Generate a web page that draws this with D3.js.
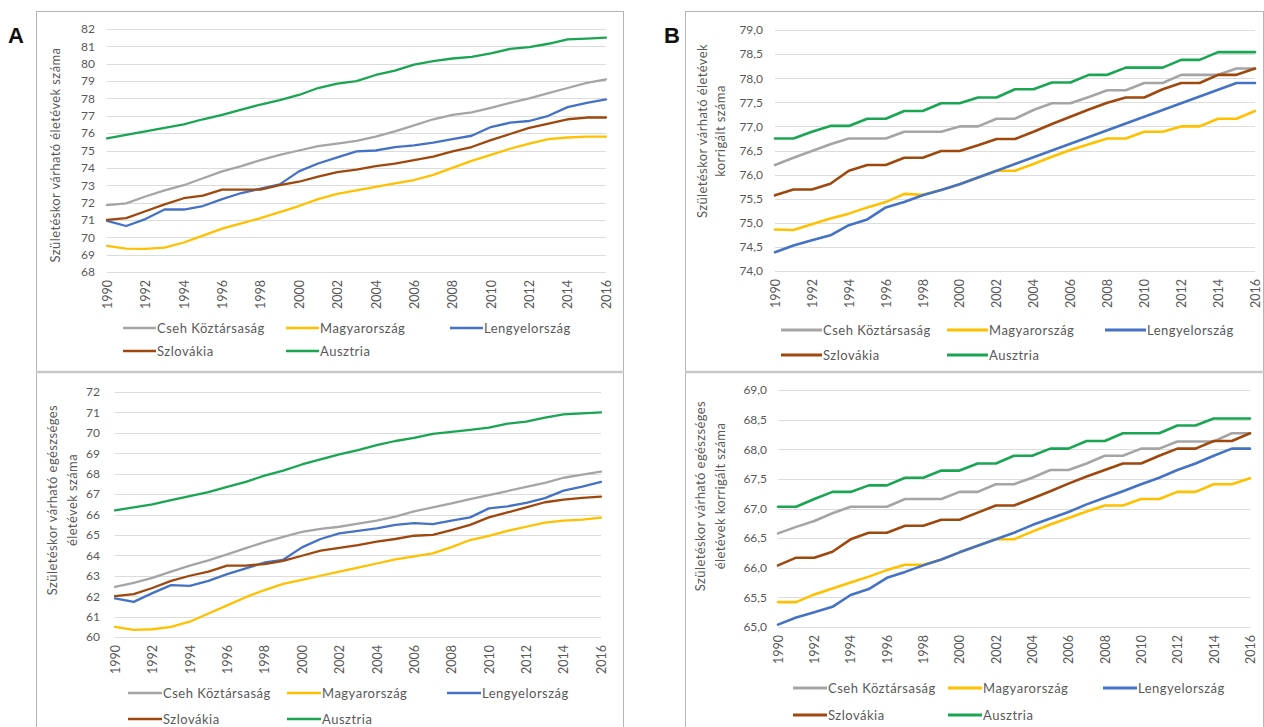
<!DOCTYPE html>
<html><head><meta charset="utf-8">
<script src="https://cdn.jsdelivr.net/npm/d3@7"></script>
<style>
body{margin:0;background:#fff}
svg{display:block}
text{font-family:Lato,"Open Sans",sans-serif}
</style>
</head><body>
<svg id="chart" width="1264" height="727"></svg>
<script>
// ---------------- DATA ----------------
const years = [1990,1991,1992,1993,1994,1995,1996,1997,1998,1999,2000,2001,2002,2003,2004,2005,2006,2007,2008,2009,2010,2011,2012,2013,2014,2015,2016];
const xTickYears = [1990,1992,1994,1996,1998,2000,2002,2004,2006,2008,2010,2012,2014,2016];
const seriesNames = ["Cseh Köztársaság","Magyarország","Lengyelország","Szlovákia","Ausztria"];
const seriesColors = ["#a5a5a5","#ffc000","#4472c4","#9e480e","#1aa553"];

// A – születéskor várható élettartam
const leCZ = [71.85,71.95,72.35,72.7,73.0,73.4,73.8,74.1,74.45,74.75,75.0,75.25,75.4,75.55,75.8,76.1,76.45,76.8,77.05,77.2,77.45,77.75,78.0,78.3,78.6,78.9,79.1];
const leHU = [69.5,69.35,69.33,69.4,69.7,70.1,70.5,70.8,71.1,71.45,71.8,72.2,72.5,72.7,72.9,73.1,73.3,73.6,74.0,74.4,74.75,75.1,75.4,75.65,75.75,75.8,75.8];
const lePL = [70.94,70.65,71.05,71.6,71.6,71.8,72.2,72.55,72.8,73.05,73.8,74.25,74.6,74.95,75.0,75.2,75.3,75.45,75.65,75.85,76.35,76.6,76.7,77.0,77.5,77.75,77.95];
const leSK = [71.0,71.1,71.5,71.9,72.25,72.4,72.75,72.75,72.75,73.0,73.2,73.5,73.75,73.9,74.1,74.25,74.45,74.65,74.95,75.2,75.6,75.95,76.3,76.55,76.8,76.9,76.9];
const leAT = [75.7,75.9,76.1,76.3,76.5,76.8,77.05,77.35,77.65,77.9,78.2,78.6,78.85,79.0,79.35,79.6,79.95,80.15,80.3,80.4,80.6,80.85,80.95,81.15,81.4,81.45,81.5];

// A – egészséges életévek
const hleCZ = [62.45,62.65,62.9,63.2,63.5,63.75,64.05,64.35,64.65,64.9,65.15,65.3,65.4,65.55,65.7,65.9,66.15,66.35,66.55,66.75,66.95,67.15,67.35,67.55,67.8,67.95,68.1];
const hleHU = [60.5,60.35,60.38,60.5,60.75,61.15,61.55,61.95,62.3,62.6,62.8,63.0,63.2,63.4,63.6,63.8,63.95,64.1,64.4,64.75,64.95,65.2,65.4,65.6,65.7,65.75,65.85];
const hlePL = [61.89,61.72,62.15,62.54,62.5,62.75,63.08,63.36,63.65,63.78,64.39,64.8,65.08,65.2,65.32,65.49,65.58,65.53,65.7,65.86,66.3,66.4,66.57,66.8,67.17,67.37,67.6];
const hleSK = [62.0,62.1,62.4,62.75,63.0,63.2,63.5,63.5,63.57,63.73,63.98,64.23,64.36,64.5,64.67,64.8,64.96,65.0,65.24,65.49,65.86,66.1,66.35,66.6,66.73,66.81,66.88];
const hleAT = [66.2,66.35,66.5,66.7,66.9,67.1,67.35,67.6,67.9,68.15,68.45,68.7,68.95,69.15,69.4,69.6,69.75,69.95,70.05,70.15,70.25,70.45,70.55,70.75,70.9,70.95,71.0];

// B – korrigált várható élettartam
const cleCZ = [76.2,76.35,76.49,76.63,76.75,76.75,76.75,76.89,76.89,76.89,77.0,77.0,77.16,77.16,77.34,77.48,77.48,77.61,77.75,77.75,77.9,77.9,78.07,78.07,78.07,78.2,78.2];
const cleHU = [74.86,74.85,74.97,75.09,75.19,75.32,75.43,75.6,75.58,75.68,75.8,75.94,76.08,76.08,76.22,76.37,76.51,76.63,76.75,76.75,76.89,76.89,77.0,77.0,77.16,77.16,77.32];
const clePL = [74.39,74.53,74.64,74.74,74.95,75.07,75.32,75.43,75.57,75.68,75.8,75.94,76.08,76.22,76.36,76.5,76.64,76.78,76.92,77.06,77.2,77.34,77.48,77.62,77.76,77.9,77.9];
const cleSK = [75.57,75.69,75.69,75.81,76.08,76.2,76.2,76.35,76.35,76.49,76.49,76.61,76.74,76.74,76.89,77.05,77.2,77.35,77.49,77.6,77.6,77.77,77.9,77.9,78.07,78.07,78.2];
const cleAT = [76.75,76.75,76.89,77.01,77.01,77.16,77.16,77.32,77.32,77.48,77.48,77.6,77.6,77.77,77.77,77.91,77.91,78.07,78.07,78.22,78.22,78.22,78.38,78.38,78.54,78.54,78.54];

// B – korrigált egészséges életévek
const chleCZ = [66.58,66.69,66.79,66.92,67.03,67.03,67.03,67.16,67.16,67.16,67.28,67.28,67.41,67.41,67.52,67.65,67.65,67.76,67.89,67.89,68.01,68.01,68.13,68.13,68.13,68.27,68.27];
const chleHU = [65.42,65.42,65.55,65.65,65.75,65.85,65.96,66.05,66.05,66.14,66.26,66.37,66.48,66.48,66.61,66.73,66.84,66.95,67.05,67.05,67.16,67.16,67.28,67.28,67.41,67.41,67.51];
const chlePL = [65.04,65.16,65.25,65.34,65.54,65.64,65.83,65.93,66.04,66.14,66.26,66.37,66.48,66.59,66.72,66.83,66.94,67.07,67.18,67.29,67.41,67.52,67.65,67.76,67.89,68.01,68.01];
const chleSK = [66.04,66.17,66.17,66.27,66.48,66.59,66.59,66.71,66.71,66.81,66.81,66.93,67.05,67.05,67.17,67.29,67.42,67.54,67.65,67.76,67.76,67.89,68.01,68.01,68.14,68.14,68.27];
const chleAT = [67.03,67.03,67.16,67.28,67.28,67.39,67.39,67.52,67.52,67.64,67.64,67.76,67.76,67.89,67.89,68.01,68.01,68.14,68.14,68.27,68.27,68.27,68.4,68.4,68.52,68.52,68.52];

// y tick values
const yTicksA1 = [68,69,70,71,72,73,74,75,76,77,78,79,80,81,82];
const yTicksA2 = [60,61,62,63,64,65,66,67,68,69,70,71,72];
const yTicksB1 = [74.0,74.5,75.0,75.5,76.0,76.5,77.0,77.5,78.0,78.5,79.0];
const yTicksB2 = [65.0,65.5,66.0,66.5,67.0,67.5,68.0,68.5,69.0];

// titles
const titleA1 = ["Születéskor várható életévek száma"];
const titleA2 = ["Születéskor várható egészséges","életévek száma"];
const titleB1 = ["Születéskor várható életévek","korrigált száma"];
const titleB2 = ["Születéskor várható egészséges","életévek korrigált száma"];

// ---------------- DRAW ----------------
const svg = d3.select("#chart");
const huLocale = d3.formatLocale({decimal: ",", thousands: " ", grouping: [3], currency: ["", ""]});
const fmtInt = d3.format("d");
const fmtDec = huLocale.format(".1f");
const textCol = "#595959";

function frame(x0, x1, yTop, ySep) {
  svg.append("rect").attr("x", x0 + .5).attr("y", yTop + .5).attr("width", x1 - x0).attr("height", 760)
    .attr("fill", "none").attr("stroke", "#b4b4b4").attr("stroke-width", 1);
  svg.append("line").attr("x1", x0).attr("x2", x1 + 1).attr("y1", ySep).attr("y2", ySep)
    .attr("stroke", "#c8c8c8").attr("stroke-width", 2.5);
}
frame(36, 623, 11, 372);
frame(685, 1263, 11, 372);

svg.append("text").attr("x", 8).attr("y", 43).text("A")
  .style("font-family", "'Liberation Sans',Arial,sans-serif").style("font-weight", "bold").style("font-size", "22px").attr("fill", "#111");
svg.append("text").attr("x", 664).attr("y", 43).text("B")
  .style("font-family", "'Liberation Sans',Arial,sans-serif").style("font-weight", "bold").style("font-size", "22px").attr("fill", "#111");

function drawPanel(p) {
  const g = svg.append("g");
  const x = d3.scaleLinear().domain([years[0], years[years.length - 1]]).range([p.x0, p.x1]);
  const y = d3.scaleLinear().domain([p.ticks[0], p.ticks[p.ticks.length - 1]]).range([p.y1, p.y0]);

  g.append("g").selectAll("line").data(p.ticks).join("line")
    .attr("x1", p.x0).attr("x2", p.x1)
    .attr("y1", d => Math.round(y(d)) + .5).attr("y2", d => Math.round(y(d)) + .5)
    .attr("stroke", "#dcdcdc").attr("stroke-width", 1);

  const ya = g.append("g").attr("transform", `translate(${p.x0},0)`)
    .call(d3.axisLeft(y).tickValues(p.ticks).tickFormat(p.fmt).tickSize(0).tickPadding(p.yPad));
  ya.select(".domain").remove();
  ya.selectAll("text").attr("fill", textCol).style("font-size", "12px").style("font-family", "Lato,sans-serif");

  const xa = g.append("g").attr("transform", `translate(0,${p.y1})`)
    .call(d3.axisBottom(x).tickValues(xTickYears).tickFormat(fmtInt).tickSize(0));
  xa.select(".domain").remove();
  xa.selectAll("text").attr("transform", "rotate(-90)").attr("text-anchor", "end")
    .attr("x", -8).attr("y", 0).attr("dy", "0.35em")
    .attr("fill", textCol).style("font-size", "12.5px").style("font-family", "Lato,sans-serif");

  const line = d3.line().x((d, i) => x(years[i])).y(d => y(d));
  g.append("g").selectAll("path").data(p.series).join("path")
    .attr("d", d => line(d)).attr("fill", "none")
    .attr("stroke", (d, i) => seriesColors[i]).attr("stroke-width", p.lw)
    .attr("stroke-linejoin", "round").attr("stroke-linecap", "round");

  p.title.forEach((t, i) => {
    g.append("text").attr("transform", `translate(${p.titleX[i]},${p.titleY}) rotate(-90)`)
      .attr("text-anchor", "middle").attr("dy", "0.35em").text(t)
      .attr("fill", textCol).style("font-size", "13px").style("letter-spacing", "0.4px");
  });

  const lg = g.append("g");
  seriesNames.forEach((name, i) => {
    const row = i < 3 ? 0 : 1;
    const col = i < 3 ? i : i - 3;
    const lx = p.legX[col], ly = p.legY[row];
    lg.append("line").attr("x1", lx).attr("x2", lx + p.legLen).attr("y1", ly).attr("y2", ly)
      .attr("stroke", seriesColors[i]).attr("stroke-width", p.legLw);
    lg.append("text").attr("x", lx + p.legLen + 1).attr("y", ly).attr("dy", "0.35em").text(name)
      .attr("fill", textCol).style("font-size", "13px").style("letter-spacing", "0.5px");
  });
}

drawPanel({x0: 107, x1: 606, y0: 29, y1: 272, ticks: yTicksA1, fmt: fmtInt, yPad: 12,
  series: [leCZ, leHU, lePL, leSK, leAT], lw: 2.3,
  title: titleA1, titleX: [55], titleY: 155,
  legX: [123, 286, 450], legY: [328, 351], legLen: 33, legLw: 2.5});

drawPanel({x0: 115, x1: 601, y0: 392, y1: 637, ticks: yTicksA2, fmt: fmtInt, yPad: 15,
  series: [hleCZ, hleHU, hlePL, hleSK, hleAT], lw: 2.3,
  title: titleA2, titleX: [52, 72], titleY: 500,
  legX: [128, 287, 447], legY: [693, 719], legLen: 34, legLw: 2.5});

drawPanel({x0: 775, x1: 1255, y0: 30, y1: 271, ticks: yTicksB1, fmt: fmtDec, yPad: 12,
  series: [cleCZ, cleHU, clePL, cleSK, cleAT], lw: 2.6,
  title: titleB1, titleX: [702, 720], titleY: 131,
  legX: [781, 947, 1105], legY: [330, 355], legLen: 41, legLw: 3});

drawPanel({x0: 778, x1: 1250, y0: 390, y1: 627, ticks: yTicksB2, fmt: fmtDec, yPad: 11,
  series: [chleCZ, chleHU, chlePL, chleSK, chleAT], lw: 2.6,
  title: titleB2, titleX: [700, 720], titleY: 496,
  legX: [793, 948, 1103], legY: [688, 715], legLen: 34, legLw: 3});
</script>
</body></html>
